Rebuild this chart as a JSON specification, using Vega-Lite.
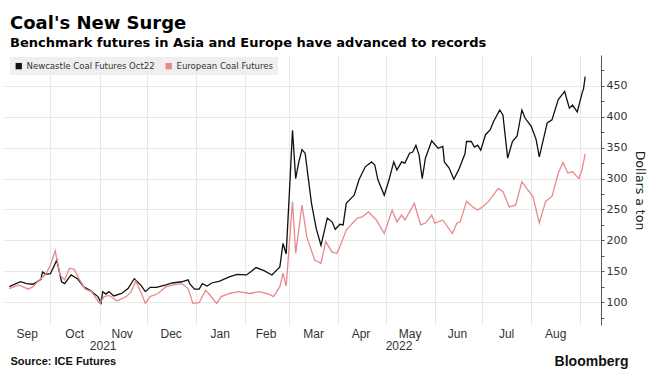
{
  "$schema": "https://vega.github.io/schema/vega-lite/v6.json",
  "width": 598,
  "height": 270,
  "autosize": "none",
  "padding": {"left": 3, "top": 55, "right": 56, "bottom": 58},
  "background": "white",
  "title": {
    "text": "Coal's New Surge",
    "subtitle": "Benchmark futures in Asia and Europe have advanced to records",
    "anchor": "start",
    "frame": "group",
    "dx": 7,
    "offset": 5,
    "font": "DejaVu Sans",
    "fontSize": 18,
    "fontWeight": "bold",
    "color": "#000000",
    "subtitleFont": "DejaVu Sans",
    "subtitleFontSize": 13,
    "subtitleFontWeight": "bold",
    "subtitleColor": "#000000",
    "subtitlePadding": 4
  },
  "config": {"view": {"stroke": null}},
  "data": {
    "values": [
      {"d": "2021-09-05", "s": "N", "v": 125}, {"d": "2021-09-12", "s": "N", "v": 133}, {"d": "2021-09-16", "s": "N", "v": 130}, {"d": "2021-09-20", "s": "N", "v": 129},
      {"d": "2021-09-25", "s": "N", "v": 137}, {"d": "2021-09-26", "s": "N", "v": 149}, {"d": "2021-09-28", "s": "N", "v": 145}, {"d": "2021-10-01", "s": "N", "v": 146},
      {"d": "2021-10-05", "s": "N", "v": 168}, {"d": "2021-10-08", "s": "N", "v": 133}, {"d": "2021-10-10", "s": "N", "v": 130}, {"d": "2021-10-14", "s": "N", "v": 144},
      {"d": "2021-10-18", "s": "N", "v": 138}, {"d": "2021-10-22", "s": "N", "v": 125}, {"d": "2021-10-26", "s": "N", "v": 119}, {"d": "2021-10-31", "s": "N", "v": 109},
      {"d": "2021-11-02", "s": "N", "v": 99}, {"d": "2021-11-03", "s": "N", "v": 117}, {"d": "2021-11-05", "s": "N", "v": 113}, {"d": "2021-11-07", "s": "N", "v": 117},
      {"d": "2021-11-10", "s": "N", "v": 110}, {"d": "2021-11-15", "s": "N", "v": 114}, {"d": "2021-11-19", "s": "N", "v": 122}, {"d": "2021-11-23", "s": "N", "v": 138},
      {"d": "2021-11-27", "s": "N", "v": 128}, {"d": "2021-11-30", "s": "N", "v": 117}, {"d": "2021-12-03", "s": "N", "v": 124}, {"d": "2021-12-07", "s": "N", "v": 124},
      {"d": "2021-12-13", "s": "N", "v": 128}, {"d": "2021-12-17", "s": "N", "v": 131}, {"d": "2021-12-23", "s": "N", "v": 133}, {"d": "2021-12-27", "s": "N", "v": 136},
      {"d": "2021-12-28", "s": "N", "v": 130}, {"d": "2021-12-31", "s": "N", "v": 121}, {"d": "2022-01-03", "s": "N", "v": 121}, {"d": "2022-01-05", "s": "N", "v": 130},
      {"d": "2022-01-08", "s": "N", "v": 126}, {"d": "2022-01-11", "s": "N", "v": 131}, {"d": "2022-01-16", "s": "N", "v": 134}, {"d": "2022-01-22", "s": "N", "v": 141},
      {"d": "2022-01-27", "s": "N", "v": 145}, {"d": "2022-02-02", "s": "N", "v": 144}, {"d": "2022-02-08", "s": "N", "v": 156}, {"d": "2022-02-13", "s": "N", "v": 151},
      {"d": "2022-02-18", "s": "N", "v": 144}, {"d": "2022-02-23", "s": "N", "v": 157}, {"d": "2022-02-25", "s": "N", "v": 195}, {"d": "2022-02-27", "s": "N", "v": 178},
      {"d": "2022-03-01", "s": "N", "v": 276}, {"d": "2022-03-03", "s": "N", "v": 378}, {"d": "2022-03-05", "s": "N", "v": 300}, {"d": "2022-03-07", "s": "N", "v": 327},
      {"d": "2022-03-09", "s": "N", "v": 347}, {"d": "2022-03-11", "s": "N", "v": 341}, {"d": "2022-03-13", "s": "N", "v": 300}, {"d": "2022-03-15", "s": "N", "v": 260},
      {"d": "2022-03-18", "s": "N", "v": 219}, {"d": "2022-03-21", "s": "N", "v": 192}, {"d": "2022-03-25", "s": "N", "v": 236}, {"d": "2022-03-28", "s": "N", "v": 230},
      {"d": "2022-03-30", "s": "N", "v": 218}, {"d": "2022-04-02", "s": "N", "v": 226}, {"d": "2022-04-04", "s": "N", "v": 225}, {"d": "2022-04-06", "s": "N", "v": 260},
      {"d": "2022-04-09", "s": "N", "v": 268}, {"d": "2022-04-11", "s": "N", "v": 273}, {"d": "2022-04-14", "s": "N", "v": 298}, {"d": "2022-04-18", "s": "N", "v": 319},
      {"d": "2022-04-22", "s": "N", "v": 327}, {"d": "2022-04-24", "s": "N", "v": 322}, {"d": "2022-04-26", "s": "N", "v": 298}, {"d": "2022-04-30", "s": "N", "v": 273},
      {"d": "2022-05-03", "s": "N", "v": 298}, {"d": "2022-05-06", "s": "N", "v": 327}, {"d": "2022-05-08", "s": "N", "v": 314}, {"d": "2022-05-11", "s": "N", "v": 327},
      {"d": "2022-05-13", "s": "N", "v": 325}, {"d": "2022-05-16", "s": "N", "v": 341}, {"d": "2022-05-18", "s": "N", "v": 343}, {"d": "2022-05-20", "s": "N", "v": 354},
      {"d": "2022-05-22", "s": "N", "v": 338}, {"d": "2022-05-24", "s": "N", "v": 300}, {"d": "2022-05-26", "s": "N", "v": 333}, {"d": "2022-05-30", "s": "N", "v": 361},
      {"d": "2022-06-03", "s": "N", "v": 349}, {"d": "2022-06-06", "s": "N", "v": 352}, {"d": "2022-06-07", "s": "N", "v": 327}, {"d": "2022-06-10", "s": "N", "v": 317},
      {"d": "2022-06-13", "s": "N", "v": 299}, {"d": "2022-06-16", "s": "N", "v": 314}, {"d": "2022-06-20", "s": "N", "v": 340}, {"d": "2022-06-21", "s": "N", "v": 360},
      {"d": "2022-06-24", "s": "N", "v": 360}, {"d": "2022-06-26", "s": "N", "v": 351}, {"d": "2022-06-28", "s": "N", "v": 354}, {"d": "2022-06-30", "s": "N", "v": 346},
      {"d": "2022-07-03", "s": "N", "v": 371}, {"d": "2022-07-06", "s": "N", "v": 379}, {"d": "2022-07-08", "s": "N", "v": 392}, {"d": "2022-07-12", "s": "N", "v": 411},
      {"d": "2022-07-14", "s": "N", "v": 403}, {"d": "2022-07-17", "s": "N", "v": 333}, {"d": "2022-07-20", "s": "N", "v": 360}, {"d": "2022-07-23", "s": "N", "v": 369},
      {"d": "2022-07-26", "s": "N", "v": 411}, {"d": "2022-07-28", "s": "N", "v": 398}, {"d": "2022-08-01", "s": "N", "v": 384}, {"d": "2022-08-04", "s": "N", "v": 363},
      {"d": "2022-08-06", "s": "N", "v": 335}, {"d": "2022-08-11", "s": "N", "v": 390}, {"d": "2022-08-14", "s": "N", "v": 395}, {"d": "2022-08-18", "s": "N", "v": 428},
      {"d": "2022-08-22", "s": "N", "v": 441}, {"d": "2022-08-25", "s": "N", "v": 414}, {"d": "2022-08-27", "s": "N", "v": 419}, {"d": "2022-08-30", "s": "N", "v": 408},
      {"d": "2022-09-02", "s": "N", "v": 438}, {"d": "2022-09-03", "s": "N", "v": 446}, {"d": "2022-09-04", "s": "N", "v": 465},

      {"d": "2021-09-05", "s": "E", "v": 122}, {"d": "2021-09-11", "s": "E", "v": 128}, {"d": "2021-09-17", "s": "E", "v": 121}, {"d": "2021-09-20", "s": "E", "v": 125},
      {"d": "2021-09-24", "s": "E", "v": 136}, {"d": "2021-09-28", "s": "E", "v": 145}, {"d": "2021-10-01", "s": "E", "v": 160}, {"d": "2021-10-04", "s": "E", "v": 183},
      {"d": "2021-10-07", "s": "E", "v": 144}, {"d": "2021-10-10", "s": "E", "v": 136}, {"d": "2021-10-13", "s": "E", "v": 155}, {"d": "2021-10-16", "s": "E", "v": 153},
      {"d": "2021-10-19", "s": "E", "v": 138}, {"d": "2021-10-23", "s": "E", "v": 121}, {"d": "2021-10-27", "s": "E", "v": 117}, {"d": "2021-11-01", "s": "E", "v": 98},
      {"d": "2021-11-04", "s": "E", "v": 109}, {"d": "2021-11-07", "s": "E", "v": 111}, {"d": "2021-11-12", "s": "E", "v": 102}, {"d": "2021-11-18", "s": "E", "v": 109},
      {"d": "2021-11-21", "s": "E", "v": 117}, {"d": "2021-11-24", "s": "E", "v": 134}, {"d": "2021-11-27", "s": "E", "v": 117}, {"d": "2021-11-30", "s": "E", "v": 98},
      {"d": "2021-12-03", "s": "E", "v": 109}, {"d": "2021-12-08", "s": "E", "v": 114}, {"d": "2021-12-13", "s": "E", "v": 125}, {"d": "2021-12-18", "s": "E", "v": 128},
      {"d": "2021-12-23", "s": "E", "v": 130}, {"d": "2021-12-27", "s": "E", "v": 122}, {"d": "2021-12-30", "s": "E", "v": 98}, {"d": "2022-01-03", "s": "E", "v": 99},
      {"d": "2022-01-07", "s": "E", "v": 119}, {"d": "2022-01-09", "s": "E", "v": 114}, {"d": "2022-01-14", "s": "E", "v": 98}, {"d": "2022-01-17", "s": "E", "v": 109},
      {"d": "2022-01-22", "s": "E", "v": 114}, {"d": "2022-01-28", "s": "E", "v": 117}, {"d": "2022-02-04", "s": "E", "v": 114}, {"d": "2022-02-10", "s": "E", "v": 117},
      {"d": "2022-02-16", "s": "E", "v": 113}, {"d": "2022-02-19", "s": "E", "v": 109}, {"d": "2022-02-23", "s": "E", "v": 125}, {"d": "2022-02-25", "s": "E", "v": 147},
      {"d": "2022-02-27", "s": "E", "v": 126}, {"d": "2022-03-03", "s": "E", "v": 263}, {"d": "2022-03-05", "s": "E", "v": 179}, {"d": "2022-03-09", "s": "E", "v": 257},
      {"d": "2022-03-12", "s": "E", "v": 206}, {"d": "2022-03-17", "s": "E", "v": 168}, {"d": "2022-03-21", "s": "E", "v": 163}, {"d": "2022-03-24", "s": "E", "v": 198},
      {"d": "2022-03-28", "s": "E", "v": 181}, {"d": "2022-03-31", "s": "E", "v": 179}, {"d": "2022-04-02", "s": "E", "v": 190}, {"d": "2022-04-06", "s": "E", "v": 217},
      {"d": "2022-04-09", "s": "E", "v": 225}, {"d": "2022-04-10", "s": "E", "v": 228}, {"d": "2022-04-13", "s": "E", "v": 236}, {"d": "2022-04-16", "s": "E", "v": 238},
      {"d": "2022-04-20", "s": "E", "v": 246}, {"d": "2022-04-25", "s": "E", "v": 233}, {"d": "2022-04-30", "s": "E", "v": 211}, {"d": "2022-05-05", "s": "E", "v": 249},
      {"d": "2022-05-08", "s": "E", "v": 230}, {"d": "2022-05-11", "s": "E", "v": 241}, {"d": "2022-05-13", "s": "E", "v": 233}, {"d": "2022-05-16", "s": "E", "v": 246},
      {"d": "2022-05-19", "s": "E", "v": 260}, {"d": "2022-05-23", "s": "E", "v": 225}, {"d": "2022-05-26", "s": "E", "v": 228}, {"d": "2022-05-30", "s": "E", "v": 241},
      {"d": "2022-06-01", "s": "E", "v": 228}, {"d": "2022-06-06", "s": "E", "v": 233}, {"d": "2022-06-12", "s": "E", "v": 211}, {"d": "2022-06-15", "s": "E", "v": 228},
      {"d": "2022-06-17", "s": "E", "v": 230}, {"d": "2022-06-21", "s": "E", "v": 263}, {"d": "2022-06-25", "s": "E", "v": 254}, {"d": "2022-06-28", "s": "E", "v": 249},
      {"d": "2022-07-01", "s": "E", "v": 254}, {"d": "2022-07-05", "s": "E", "v": 263}, {"d": "2022-07-11", "s": "E", "v": 284}, {"d": "2022-07-14", "s": "E", "v": 279},
      {"d": "2022-07-18", "s": "E", "v": 254}, {"d": "2022-07-22", "s": "E", "v": 257}, {"d": "2022-07-26", "s": "E", "v": 295}, {"d": "2022-07-29", "s": "E", "v": 284},
      {"d": "2022-08-02", "s": "E", "v": 271}, {"d": "2022-08-06", "s": "E", "v": 228}, {"d": "2022-08-10", "s": "E", "v": 263}, {"d": "2022-08-14", "s": "E", "v": 271},
      {"d": "2022-08-18", "s": "E", "v": 309}, {"d": "2022-08-21", "s": "E", "v": 326}, {"d": "2022-08-24", "s": "E", "v": 309}, {"d": "2022-08-27", "s": "E", "v": 311},
      {"d": "2022-08-31", "s": "E", "v": 300}, {"d": "2022-09-02", "s": "E", "v": 314}, {"d": "2022-09-04", "s": "E", "v": 340}
    ]
  },
  "layer": [
    {
      "mark": {"type": "rule", "opacity": 0},
      "encoding": {
        "x": {
          "field": "d", "type": "temporal",
          "scale": {"type": "utc", "domain": [{"year": 2021, "month": 9, "date": 1, "utc": true}, {"year": 2022, "month": 9, "date": 14, "utc": true}]},
          "axis": {
            "orient": "bottom",
            "values": [
              {"year": 2021, "month": 10, "date": 1, "utc": true}, {"year": 2021, "month": 11, "date": 1, "utc": true}, {"year": 2021, "month": 12, "date": 1, "utc": true},
              {"year": 2022, "month": 1, "date": 1, "utc": true}, {"year": 2022, "month": 2, "date": 1, "utc": true}, {"year": 2022, "month": 3, "date": 1, "utc": true},
              {"year": 2022, "month": 4, "date": 1, "utc": true}, {"year": 2022, "month": 5, "date": 1, "utc": true}, {"year": 2022, "month": 6, "date": 1, "utc": true},
              {"year": 2022, "month": 7, "date": 1, "utc": true}, {"year": 2022, "month": 8, "date": 1, "utc": true}, {"year": 2022, "month": 9, "date": 1, "utc": true}
            ],
            "grid": true, "gridColor": "#e8e8e8", "gridWidth": 1,
            "labels": false, "ticks": false, "domain": false,
            "title": "Bloomberg",
            "titleFont": "Liberation Sans", "titleFontSize": 14, "titleFontWeight": "bold", "titleColor": "#111111",
            "titleAnchor": "start", "titleAlign": "right", "titleBaseline": "alphabetic", "titleX": 625, "titleY": 40
          }
        }
      }
    },
    {
      "mark": {"type": "line", "strokeWidth": 1.3, "interpolate": "linear"},
      "encoding": {
        "x": {
          "field": "d", "type": "temporal",
          "scale": {"type": "utc", "domain": [{"year": 2021, "month": 9, "date": 1, "utc": true}, {"year": 2022, "month": 9, "date": 14, "utc": true}]},
          "axis": {
            "orient": "bottom",
            "values": [
              {"year": 2021, "month": 9, "date": 16, "utc": true}, {"year": 2021, "month": 10, "date": 16, "utc": true}, {"year": 2021, "month": 11, "date": 3, "utc": true},
              {"year": 2021, "month": 11, "date": 15, "utc": true}, {"year": 2021, "month": 12, "date": 16, "utc": true}, {"year": 2022, "month": 1, "date": 16, "utc": true},
              {"year": 2022, "month": 2, "date": 14, "utc": true}, {"year": 2022, "month": 3, "date": 16, "utc": true}, {"year": 2022, "month": 4, "date": 15, "utc": true},
              {"year": 2022, "month": 5, "date": 9, "utc": true}, {"year": 2022, "month": 5, "date": 16, "utc": true}, {"year": 2022, "month": 6, "date": 15, "utc": true},
              {"year": 2022, "month": 7, "date": 16, "utc": true}, {"year": 2022, "month": 8, "date": 16, "utc": true}
            ],
            "labelExpr": "(utcmonth(datum.value) == 10 && utcdate(datum.value) == 3) ? ['', '2021'] : ((utcmonth(datum.value) == 4 && utcdate(datum.value) == 9) ? ['', '2022'] : utcFormat(datum.value, '%b'))",
            "labelOverlap": false, "labelBound": false, "labelFlush": false,
            "labelFont": "Liberation Sans", "labelFontSize": 12, "labelColor": "#333333", "labelLineHeight": 12, "labelPadding": 3,
            "grid": false, "ticks": false, "domain": false,
            "title": "Source: ICE Futures",
            "titleFont": "Liberation Sans", "titleFontSize": 11, "titleFontWeight": "bold", "titleColor": "#111111",
            "titleAnchor": "start", "titleAlign": "left", "titleBaseline": "alphabetic", "titleX": 7, "titleY": 39
          }
        },
        "y": {
          "field": "v", "type": "quantitative",
          "scale": {"domain": [63, 500], "nice": false, "zero": false},
          "axis": {
            "orient": "right",
            "values": [75, 100, 125, 150, 175, 200, 225, 250, 275, 300, 325, 350, 375, 400, 425, 450, 475],
            "labelExpr": "datum.value % 50 == 0 ? datum.label : ''",
            "grid": true, "gridColor": "#e8e8e8", "gridWidth": 1,
            "gridOpacity": {"condition": {"test": "datum.value % 50 == 0", "value": 1}, "value": 0},
            "tickSize": 3, "tickColor": "#555555", "domainColor": "#555555", "domainWidth": 1,
            "labelFont": "DejaVu Sans", "labelFontSize": 11, "labelColor": "#333333", "labelPadding": 2,
            "title": "Dollars a ton", "titleFont": "DejaVu Sans", "titleFontSize": 12.5, "titleFontWeight": "normal",
            "titleColor": "#222222", "titleAngle": 90, "titlePadding": 6
          }
        },
        "color": {
          "field": "s", "type": "nominal",
          "scale": {"domain": ["N", "E"], "range": ["#111111", "#e8898b"]},
          "legend": {
            "orient": "none", "legendX": 7, "legendY": 2, "direction": "horizontal",
            "title": null, "fillColor": "#efefef", "padding": 4,
            "symbolType": "square", "symbolSize": 40, "symbolStrokeWidth": 0,
            "labelFont": "'DejaVu Sans Condensed', 'Liberation Sans', sans-serif", "labelFontSize": 9.5, "labelColor": "#333333",
            "columnPadding": 9, "labelOffset": 3,
            "labelExpr": "datum.value == 'N' ? 'Newcastle Coal Futures Oct22' : 'European Coal Futures'",
            "encode": {"symbols": {"update": {"fill": {"scale": "color", "field": "value"}, "stroke": {"value": "transparent"}}}}
          }
        }
      }
    }
  ],
  "resolve": {"axis": {"x": "independent"}}
}
